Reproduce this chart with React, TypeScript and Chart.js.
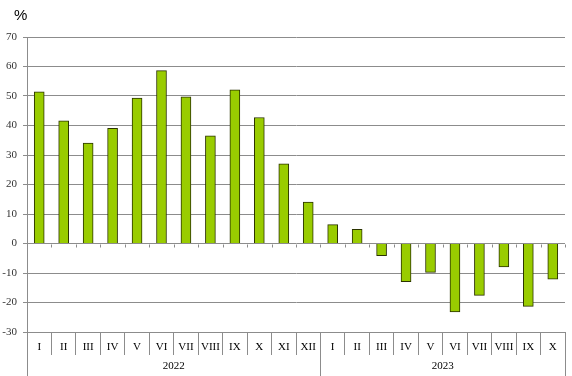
import React, { useEffect, useRef } from "react";
import { Chart, registerables } from "chart.js";

Chart.register(...registerables);

const months2022 = ["I", "II", "III", "IV", "V", "VI", "VII", "VIII", "IX", "X", "XI", "XII"];
const months2023 = ["I", "II", "III", "IV", "V", "VI", "VII", "VIII", "IX", "X"];
const years = ["2022", "2023"];
const values2022 = [51.4, 41.6, 34.0, 39.0, 49.3, 58.6, 49.7, 36.5, 52.1, 42.7, 27.0, 14.0];
const values2023 = [6.4, 4.8, -4.1, -12.9, -9.8, -23.2, -17.6, -7.9, -21.3, -12.1];
const yTicks = [-30, -20, -10, 0, 10, 20, 30, 40, 50, 60, 70];
const unitLabel = "%";

const labels = [...months2022, ...months2023];
const values = [...values2022, ...values2023];

const GRID = "#8c8c8c";
const SERIF = "'Liberation Serif', 'DejaVu Serif', serif";

const decorPlugin = {
  id: "decor",
  afterDraw(chart: any) {
    const ctx = chart.ctx;
    const x = chart.scales.x;
    const y = chart.scales.y;
    const area = chart.chartArea;
    const bottom = chart.height;
    ctx.save();
    // unit label
    ctx.fillStyle = "#000";
    ctx.font = "15px 'Liberation Sans', Arial, sans-serif";
    ctx.textAlign = "left";
    ctx.textBaseline = "middle";
    ctx.fillText(unitLabel, 14, 16);

    ctx.strokeStyle = GRID;
    ctx.lineWidth = 1;
    const half = (x.getPixelForValue(1) - x.getPixelForValue(0)) / 2;
    // small ticks on zero line
    const zy = Math.round(y.getPixelForValue(0)) + 0.5;
    for (let i = 0; i <= labels.length; i++) {
      const px = Math.round(x.getPixelForValue(i) - half) + 0.5;
      ctx.beginPath();
      ctx.moveTo(px, zy);
      ctx.lineTo(px, zy + 3);
      ctx.stroke();
    }
    // year separators
    const groups = [0, months2022.length, labels.length];
    for (const g of groups) {
      const px = Math.round(x.getPixelForValue(g) - half) + 0.5;
      ctx.beginPath();
      ctx.moveTo(px, area.bottom);
      ctx.lineTo(px, bottom);
      ctx.stroke();
    }
    // year labels
    ctx.fillStyle = "#000";
    ctx.font = "11px " + SERIF;
    ctx.textAlign = "center";
    ctx.textBaseline = "middle";
    for (let k = 0; k < years.length; k++) {
      const a = x.getPixelForValue(groups[k]) - half;
      const b = x.getPixelForValue(groups[k + 1]) - half;
      ctx.fillText(years[k], (a + b) / 2, area.bottom + 34);
    }
    ctx.restore();
  },
};

export default function App() {
  const ref = useRef<HTMLCanvasElement | null>(null);
  useEffect(() => {
    if (!ref.current) return;
    const chart = new Chart(ref.current, {
      type: "bar",
      data: {
        labels,
        datasets: [
          {
            data: values,
            backgroundColor: "#99cc00",
            borderColor: "#2b3300",
            borderWidth: 1,
            barThickness: 10,
          },
        ],
      },
      options: {
        animation: false,
        responsive: false,
        maintainAspectRatio: false,
        layout: { padding: { top: 37, right: 7, left: 0, bottom: 0 } },
        plugins: { legend: { display: false }, tooltip: { enabled: false } },
        scales: {
          x: {
            offset: true,
            afterFit: (s: any) => {
              s.height = 44;
            },
            grid: {
              offset: true,
              drawOnChartArea: false,
              drawTicks: true,
              tickLength: 23,
              color: GRID,
            },
            border: { display: false },
            ticks: {
              autoSkip: false,
              maxRotation: 0,
              padding: -14,
              color: "#000",
              font: { family: SERIF, size: 11 },
            },
          },
          y: {
            min: -30,
            max: 70,
            afterFit: (s: any) => {
              s.width = 27;
            },
            afterBuildTicks: (s: any) => {
              s.ticks = yTicks.map((v) => ({ value: v }));
            },
            grid: { color: GRID, drawTicks: true, tickLength: 4 },
            border: { display: true, color: GRID },
            ticks: {
              padding: 6,
              color: "#333",
              font: { family: SERIF, size: 11 },
            },
          },
        },
      },
      plugins: [decorPlugin],
    });
    return () => chart.destroy();
  }, []);
  return (
    <div style={{ position: "fixed", left: 0, top: 0, width: 572, height: 376, background: "#fff" }}>
      <canvas ref={ref} width={572} height={376} style={{ width: 572, height: 376 }} />
    </div>
  );
}
